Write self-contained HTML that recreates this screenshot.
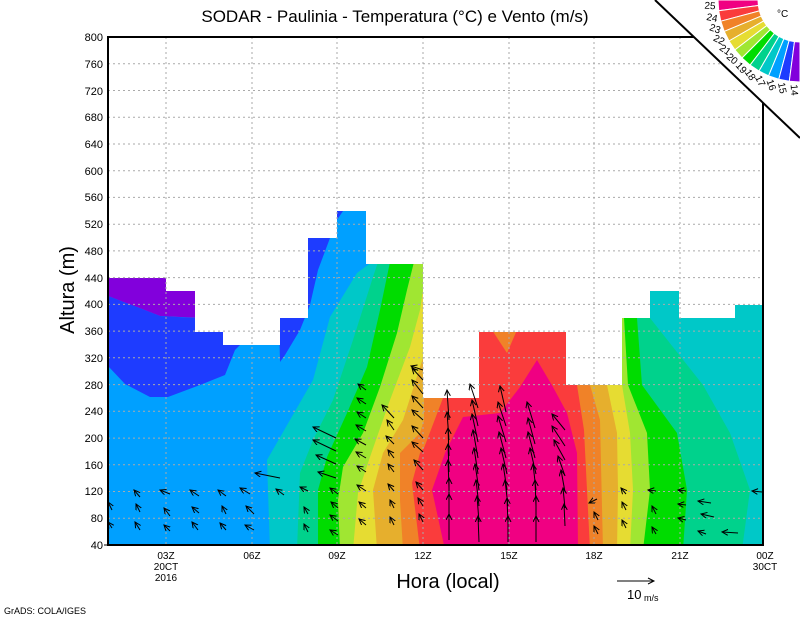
<!DOCTYPE html>
<html><head><meta charset="utf-8"><style>
html,body{margin:0;padding:0;background:#fff;}
svg{display:block;font-family:"Liberation Sans",sans-serif;}
</style></head><body>
<svg width="800" height="618" viewBox="0 0 800 618" xmlns="http://www.w3.org/2000/svg">
<defs>
<clipPath id="dc"><path d="M108,545 L108,278 L166,278 L166,291 L195,291 L195,332 L223,332 L223,345 L280,345 L280,318 L308,318 L308,238 L337,238 L337,211 L366,211 L366,264 L423,264 L423,398 L479,398 L479,332 L566,332 L566,385 L622,385 L622,318 L650,318 L650,291 L679,291 L679,318 L735,318 L735,305 L763,305 L763,545 Z"/></clipPath>
<marker id="ah" markerWidth="8" markerHeight="8" refX="6" refY="3" orient="auto" markerUnits="userSpaceOnUse"><polyline points="0,0 6,3 0,6" fill="none" stroke="#000" stroke-width="1"/></marker>
</defs>
<g clip-path="url(#dc)">
<rect x="100" y="200" width="670" height="350" fill="#00a0ff"/>
<polygon fill="#8200dc" points="108,270 200,270 200,318 160,316 108,296"/>
<polygon fill="#1e3cff" points="108,296 160,316 195,318 240,318 240,345 235,350 225,375 200,385 168,397 150,397 125,384 108,366"/>
<polygon fill="#1e3cff" points="279,318 308,318 308,238 330,238 318,270 310,305 300,330 285,355 280,362"/>
<polygon fill="#1e3cff" points="336,211 343,211 337,220"/>
<polygon fill="#00c8c8" points="270,550 267,460 313,380 330,317 357,273 372,262 372,200 800,200 800,550"/>
<polygon fill="#00d28c" points="297,550 300,473 313,440 333,400 353,340 373,277 378,262 378,200 650,200 650,318 703,385 730,433 750,490 742,550"/>
<polygon fill="#00dc00" points="318,550 318,490 327,457 347,413 367,367 380,310 390,262 390,200 637,200 637,318 642,385 677,433 687,490 683,550"/>
<polygon fill="#a0e632" points="340,550 338,500 343,467 363,433 380,387 397,333 407,290 414,262 414,200 624,200 624,318 628,385 647,433 650,490 643,550"/>
<polygon fill="#e6dc32" points="353,550 358,493 370,457 390,400 410,347 420,310 423,290 423,200 622,200 622,385 630,433 633,490 630,550"/>
<polygon fill="#e6af2d" points="377,550 373,490 383,453 403,420 420,367 424,355 424,200 607,200 607,385 617,433 618,490 617,550"/>
<polygon fill="#f08228" points="403,550 400,500 400,453 420,433 424,420 424,200 590,200 590,385 600,420 603,550"/>
<polygon fill="#fa3c3c" points="420,550 412,483 420,453 424,448 443,398 443,200 577,200 577,385 584,430 590,550"/>
<polygon fill="#f08228" points="492,330 517,330 507,353"/>
<polygon fill="#f00082" points="445,550 432,490 445,453 463,417 500,413 520,387 537,360 553,387 567,413 577,453 578,550"/>
</g>
<g stroke="#aaa" stroke-width="1" stroke-dasharray="2,3">
<line x1="108" x2="763" y1="518.3" y2="518.3"/><line x1="108" x2="763" y1="491.5" y2="491.5"/>
<line x1="108" x2="763" y1="464.8" y2="464.8"/><line x1="108" x2="763" y1="438.1" y2="438.1"/>
<line x1="108" x2="763" y1="411.3" y2="411.3"/><line x1="108" x2="763" y1="384.6" y2="384.6"/>
<line x1="108" x2="763" y1="357.8" y2="357.8"/><line x1="108" x2="763" y1="331.1" y2="331.1"/>
<line x1="108" x2="763" y1="304.4" y2="304.4"/><line x1="108" x2="763" y1="277.6" y2="277.6"/>
<line x1="108" x2="763" y1="250.9" y2="250.9"/><line x1="108" x2="763" y1="224.2" y2="224.2"/>
<line x1="108" x2="763" y1="197.4" y2="197.4"/><line x1="108" x2="763" y1="170.7" y2="170.7"/>
<line x1="108" x2="763" y1="144" y2="144"/><line x1="108" x2="763" y1="117.2" y2="117.2"/>
<line x1="108" x2="763" y1="90.5" y2="90.5"/><line x1="108" x2="763" y1="63.8" y2="63.8"/>
<line x1="166" x2="166" y1="37" y2="545"/><line x1="252" x2="252" y1="37" y2="545"/>
<line x1="337" x2="337" y1="37" y2="545"/><line x1="423" x2="423" y1="37" y2="545"/>
<line x1="509" x2="509" y1="37" y2="545"/><line x1="594" x2="594" y1="37" y2="545"/>
<line x1="680" x2="680" y1="37" y2="545"/>
</g>
<g stroke="#000" stroke-width="1" fill="none" marker-end="url(#ah)">
<!-- cold left -->
<line x1="112" y1="510" x2="108" y2="502"/><line x1="112" y1="528" x2="108" y2="522"/>
<line x1="140" y1="497" x2="134" y2="490"/><line x1="140" y1="512" x2="136" y2="504"/><line x1="140" y1="530" x2="135" y2="522"/>
<line x1="170" y1="494" x2="160" y2="490"/><line x1="170" y1="516" x2="164" y2="508"/><line x1="170" y1="531" x2="164" y2="525"/>
<line x1="199" y1="496" x2="190" y2="490"/><line x1="199" y1="513" x2="192" y2="507"/><line x1="198" y1="530" x2="192" y2="522"/>
<line x1="226" y1="496" x2="218" y2="490"/><line x1="226" y1="514" x2="222" y2="506"/><line x1="226" y1="530" x2="220" y2="523"/>
<line x1="250" y1="494" x2="240" y2="488"/><line x1="254" y1="514" x2="246" y2="506"/><line x1="254" y1="530" x2="245" y2="525"/>
<line x1="280" y1="478" x2="255" y2="473"/><line x1="284" y1="495" x2="276" y2="489"/>
<!-- 09Z region -->
<line x1="308" y1="491" x2="300" y2="487"/><line x1="308" y1="514" x2="304" y2="507"/><line x1="308" y1="532" x2="304" y2="524"/>
<line x1="336" y1="438" x2="313" y2="427"/><line x1="336" y1="451" x2="313" y2="440"/><line x1="336" y1="464" x2="316" y2="455"/><line x1="336" y1="478" x2="318" y2="472"/>
<line x1="338" y1="494" x2="330" y2="488"/><line x1="338" y1="508" x2="331" y2="502"/><line x1="338" y1="521" x2="330" y2="515"/><line x1="338" y1="535" x2="330" y2="530"/>
<line x1="366" y1="390" x2="358" y2="384"/><line x1="366" y1="404" x2="357" y2="398"/><line x1="366" y1="418" x2="357" y2="412"/><line x1="366" y1="431" x2="356" y2="425"/><line x1="366" y1="445" x2="355" y2="439"/><line x1="366" y1="458" x2="356" y2="452"/><line x1="366" y1="472" x2="357" y2="466"/><line x1="366" y1="491" x2="357" y2="485"/><line x1="366" y1="508" x2="359" y2="502"/><line x1="366" y1="525" x2="359" y2="519"/>
<line x1="394" y1="418" x2="382" y2="405"/><line x1="394" y1="430" x2="387" y2="420"/><line x1="394" y1="444" x2="386" y2="436"/><line x1="394" y1="458" x2="388" y2="450"/><line x1="394" y1="472" x2="388" y2="464"/><line x1="394" y1="491" x2="388" y2="484"/><line x1="394" y1="508" x2="390" y2="500"/><line x1="394" y1="525" x2="390" y2="517"/>
<line x1="423" y1="370" x2="411" y2="366"/><line x1="423" y1="380" x2="412" y2="368"/><line x1="423" y1="394" x2="412" y2="380"/><line x1="423" y1="408" x2="412" y2="396"/><line x1="423" y1="420" x2="412" y2="410"/><line x1="423" y1="438" x2="412" y2="426"/><line x1="423" y1="452" x2="412" y2="442"/><line x1="423" y1="470" x2="414" y2="460"/><line x1="423" y1="490" x2="416" y2="482"/><line x1="423" y1="506" x2="418" y2="498"/><line x1="423" y1="522" x2="419" y2="514"/>
<!-- warm long arrows -->
<line x1="449" y1="420" x2="447" y2="390"/><line x1="449" y1="440" x2="447" y2="412"/><line x1="449" y1="456" x2="448" y2="428"/><line x1="449" y1="472" x2="448" y2="444"/><line x1="449" y1="488" x2="448" y2="460"/><line x1="449" y1="504" x2="449" y2="478"/><line x1="449" y1="520" x2="449" y2="494"/><line x1="449" y1="540" x2="449" y2="514"/>
<line x1="478" y1="408" x2="470" y2="384"/><line x1="478" y1="426" x2="472" y2="400"/><line x1="478" y1="442" x2="472" y2="414"/><line x1="478" y1="458" x2="473" y2="430"/><line x1="478" y1="474" x2="474" y2="448"/><line x1="479" y1="490" x2="475" y2="464"/><line x1="479" y1="506" x2="476" y2="480"/><line x1="479" y1="522" x2="477" y2="496"/><line x1="479" y1="542" x2="478" y2="516"/>
<line x1="506" y1="412" x2="500" y2="386"/><line x1="506" y1="426" x2="498" y2="402"/><line x1="506" y1="442" x2="498" y2="416"/><line x1="506" y1="458" x2="499" y2="432"/><line x1="507" y1="474" x2="501" y2="448"/><line x1="507" y1="490" x2="503" y2="464"/><line x1="508" y1="506" x2="505" y2="480"/><line x1="508" y1="524" x2="507" y2="498"/><line x1="508" y1="542" x2="508" y2="516"/>
<line x1="535" y1="428" x2="527" y2="402"/><line x1="535" y1="444" x2="528" y2="418"/><line x1="535" y1="458" x2="528" y2="432"/><line x1="536" y1="474" x2="530" y2="448"/><line x1="536" y1="490" x2="533" y2="464"/><line x1="536" y1="506" x2="535" y2="480"/><line x1="536" y1="522" x2="536" y2="496"/><line x1="536" y1="542" x2="536" y2="516"/>
<line x1="565" y1="430" x2="552" y2="414"/><line x1="565" y1="446" x2="552" y2="426"/><line x1="565" y1="460" x2="554" y2="440"/><line x1="565" y1="476" x2="558" y2="456"/><line x1="565" y1="492" x2="561" y2="470"/><line x1="565" y1="508" x2="563" y2="488"/><line x1="565" y1="526" x2="564" y2="504"/>
<!-- right side -->
<line x1="597" y1="499" x2="589" y2="503"/><line x1="598" y1="520" x2="594" y2="512"/><line x1="598" y1="534" x2="594" y2="526"/>
<line x1="626" y1="494" x2="621" y2="488"/><line x1="626" y1="510" x2="622" y2="502"/><line x1="626" y1="528" x2="622" y2="520"/>
<line x1="656" y1="491" x2="648" y2="490"/><line x1="656" y1="514" x2="652" y2="506"/><line x1="656" y1="534" x2="652" y2="527"/>
<line x1="686" y1="491" x2="678" y2="490"/><line x1="686" y1="505" x2="678" y2="504"/><line x1="686" y1="520" x2="678" y2="518"/>
<line x1="711" y1="503" x2="698" y2="501"/><line x1="714" y1="517" x2="701" y2="514"/><line x1="706" y1="534" x2="698" y2="531"/>
<line x1="738" y1="533" x2="722" y2="532"/><line x1="762" y1="492" x2="752" y2="491"/>
</g>
<rect x="108" y="37" width="655" height="508" fill="none" stroke="#000" stroke-width="2"/>
<g stroke="#000"><line x1="104" x2="108" y1="545" y2="545"/></g>
<g font-size="11" fill="#000" text-anchor="end">
<text x="103" y="549">40</text><text x="103" y="522">80</text><text x="103" y="495">120</text><text x="103" y="469">160</text>
<text x="103" y="442">200</text><text x="103" y="415">240</text><text x="103" y="389">280</text><text x="103" y="362">320</text>
<text x="103" y="335">360</text><text x="103" y="308">400</text><text x="103" y="282">440</text><text x="103" y="255">480</text>
<text x="103" y="228">520</text><text x="103" y="201">560</text><text x="103" y="175">600</text><text x="103" y="148">640</text>
<text x="103" y="121">680</text><text x="103" y="95">720</text><text x="103" y="68">760</text><text x="103" y="41">800</text>
</g>
<g font-size="10" fill="#000" text-anchor="middle">
<text x="166" y="559">03Z</text><text x="166" y="570">20CT</text><text x="166" y="581">2016</text>
<text x="252" y="559">06Z</text><text x="337" y="559">09Z</text><text x="423" y="559">12Z</text>
<text x="509" y="559">15Z</text><text x="594" y="559">18Z</text><text x="680" y="559">21Z</text>
<text x="765" y="559">00Z</text><text x="765" y="570">30CT</text>
</g>
<text x="395" y="22" font-size="17" text-anchor="middle">SODAR - Paulinia - Temperatura (°C) e Vento (m/s)</text>
<text x="448" y="588" font-size="20" text-anchor="middle">Hora (local)</text>
<text transform="translate(74,290) rotate(-90)" font-size="20" text-anchor="middle">Altura (m)</text>
<line x1="617" y1="581" x2="654" y2="581" stroke="#000"/><polyline points="648,578 654,581 648,584" fill="none" stroke="#000"/>
<text x="627" y="599" font-size="13">10</text><text x="644" y="601" font-size="9">m/s</text>
<text x="4" y="614" font-size="9">GrADS: COLA/IGES</text>
<polygon points="655,0 800,0 800,138" fill="#fff"/>
<g stroke="#fff" stroke-width="1">
<polygon fill="#f00082" points="758,0 718,0 718.7,10.7 758.4,5.5"/>
<polygon fill="#fa3c3c" points="758.4,5.5 718.7,10.7 720.8,21.2 759.4,10.9"/>
<polygon fill="#f08228" points="759.4,10.9 720.8,21.2 724.2,31.4 761.2,16.1"/>
<polygon fill="#e6af2d" points="761.2,16.1 724.2,31.4 729,41 763.6,21"/>
<polygon fill="#e6dc32" points="763.6,21 729,41 734.9,49.9 766.7,25.6"/>
<polygon fill="#a0e632" points="766.7,25.6 734.9,49.9 742,58 770.3,29.7"/>
<polygon fill="#00dc00" points="770.3,29.7 742,58 750.1,65.1 774.4,33.3"/>
<polygon fill="#00d28c" points="774.4,33.3 750.1,65.1 759,71 779,36.4"/>
<polygon fill="#00c8c8" points="779,36.4 759,71 768.6,75.8 783.9,38.8"/>
<polygon fill="#00a0ff" points="783.9,38.8 768.6,75.8 778.8,79.2 789.1,40.6"/>
<polygon fill="#1e3cff" points="789.1,40.6 778.8,79.2 789.3,81.3 794.5,41.6"/>
<polygon fill="#8200dc" points="794.5,41.6 789.3,81.3 800,82 800,42"/>
</g>
<g font-size="10" fill="#000" text-anchor="middle">
<text x="710" y="9" transform="rotate(4 710 6)">25</text>
<text x="712" y="21" transform="rotate(11 712 18)">24</text>
<text x="715" y="32" transform="rotate(19 715 29)">23</text>
<text x="719" y="43" transform="rotate(26 719 40)">22</text>
<text x="725" y="53" transform="rotate(34 725 50)">21</text>
<text x="732" y="62" transform="rotate(41 732 59)">20</text>
<text x="741" y="71" transform="rotate(49 741 68)">19</text>
<text x="750" y="78" transform="rotate(56 750 75)">18</text>
<text x="760" y="84" transform="rotate(64 760 81)">17</text>
<text x="771" y="88" transform="rotate(71 771 85)">16</text>
<text x="782" y="91" transform="rotate(79 782 88)">15</text>
<text x="794" y="93" transform="rotate(86 794 90)">14</text>
</g>
<line x1="655" y1="0" x2="800" y2="138" stroke="#000" stroke-width="2"/>
<text x="777" y="17" font-size="10">°C</text>
</svg>
</body></html>
